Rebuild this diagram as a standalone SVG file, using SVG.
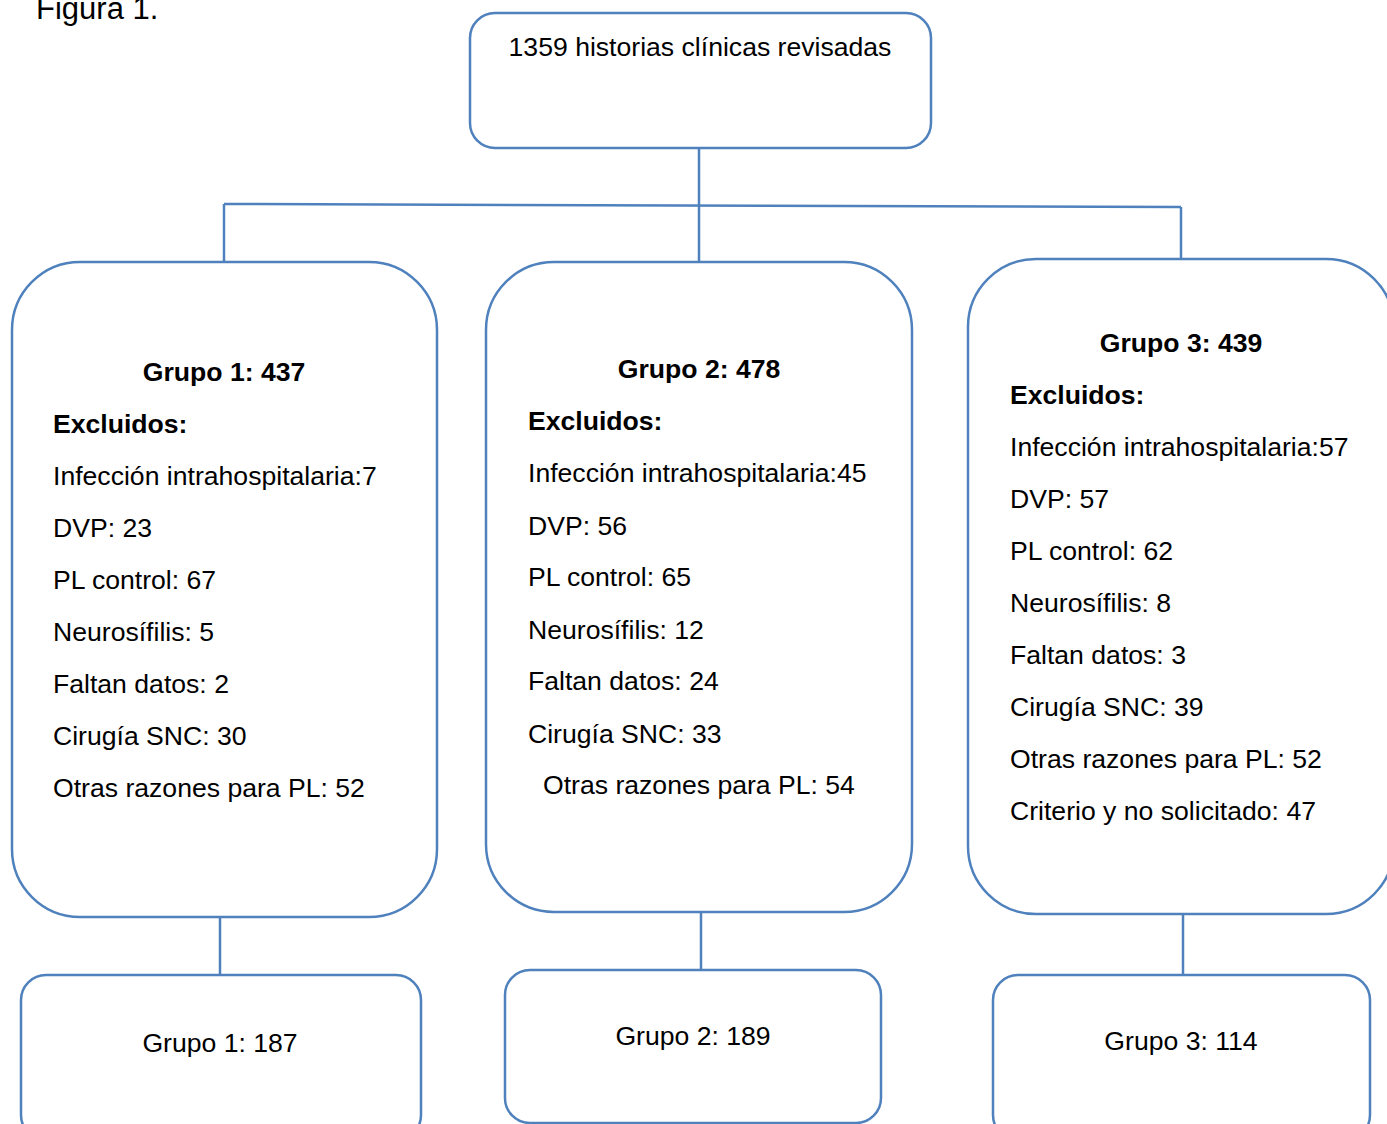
<svg xmlns="http://www.w3.org/2000/svg" width="1387" height="1124" viewBox="0 0 1387 1124">
<style>
.box{fill:#fff;stroke:#4F81BD;stroke-width:2.5}
.ln{stroke:#4F81BD;stroke-width:2.5;fill:none}
text{font-family:"Liberation Sans",Arial,sans-serif;font-size:26.6px;fill:#000}
.b{font-weight:bold}
.c{text-anchor:middle}
</style>
<rect width="1387" height="1124" fill="#fff"/>
<text x="36" y="19" style="font-size:31px">Figura 1.</text>
<g id="connectors">
<line class="ln" x1="699" y1="148" x2="699" y2="262"/>
<line class="ln" x1="224" y1="204" x2="1181" y2="207"/>
<line class="ln" x1="224" y1="204" x2="224" y2="262"/>
<line class="ln" x1="1181" y1="207" x2="1181" y2="259"/>
<line class="ln" x1="220" y1="917" x2="220" y2="975"/>
<line class="ln" x1="701" y1="912" x2="701" y2="970"/>
<line class="ln" x1="1183" y1="914" x2="1183" y2="975"/>
</g>
<g id="top">
<rect class="box" x="470" y="13" width="461" height="135" rx="25"/>
<text class="c" x="700" y="56">1359 historias clínicas revisadas</text>
</g>
<g id="grupo1">
<rect class="box" x="12" y="262" width="425" height="655" rx="68"/>
<text class="c b" x="224" y="381">Grupo 1: 437</text>
<text class="b" x="53" y="433">Excluidos:</text>
<text x="53" y="485">Infección intrahospitalaria:7</text>
<text x="53" y="537">DVP: 23</text>
<text x="53" y="589">PL control: 67</text>
<text x="53" y="641">Neurosífilis: 5</text>
<text x="53" y="693">Faltan datos: 2</text>
<text x="53" y="745">Cirugía SNC: 30</text>
<text x="53" y="797">Otras razones para PL: 52</text>
</g>
<g id="grupo2">
<rect class="box" x="486" y="262" width="426" height="650" rx="68"/>
<text class="c b" x="699" y="378">Grupo 2: 478</text>
<text class="b" x="528" y="430">Excluidos:</text>
<text x="528" y="482">Infección intrahospitalaria:45</text>
<text x="528" y="535">DVP: 56</text>
<text x="528" y="586">PL control: 65</text>
<text x="528" y="639">Neurosífilis: 12</text>
<text x="528" y="690">Faltan datos: 24</text>
<text x="528" y="743">Cirugía SNC: 33</text>
<text x="543" y="794">Otras razones para PL: 54</text>
</g>
<g id="grupo3">
<rect class="box" x="968" y="259" width="426" height="655" rx="68"/>
<text class="c b" x="1181" y="352">Grupo 3: 439</text>
<text class="b" x="1010" y="404">Excluidos:</text>
<text x="1010" y="456">Infección intrahospitalaria:57</text>
<text x="1010" y="508">DVP: 57</text>
<text x="1010" y="560">PL control: 62</text>
<text x="1010" y="612">Neurosífilis: 8</text>
<text x="1010" y="664">Faltan datos: 3</text>
<text x="1010" y="716">Cirugía SNC: 39</text>
<text x="1010" y="768">Otras razones para PL: 52</text>
<text x="1010" y="820">Criterio y no solicitado: 47</text>
</g>
<g id="res1">
<rect class="box" x="21" y="975" width="400" height="165" rx="25"/>
<text class="c" x="220" y="1052">Grupo 1: 187</text>
</g>
<g id="res2">
<rect class="box" x="505" y="970" width="376" height="153" rx="25"/>
<text class="c" x="693" y="1045">Grupo 2: 189</text>
</g>
<g id="res3">
<rect class="box" x="993" y="975" width="377" height="165" rx="25"/>
<text class="c" x="1181" y="1050">Grupo 3: 114</text>
</g>
</svg>
